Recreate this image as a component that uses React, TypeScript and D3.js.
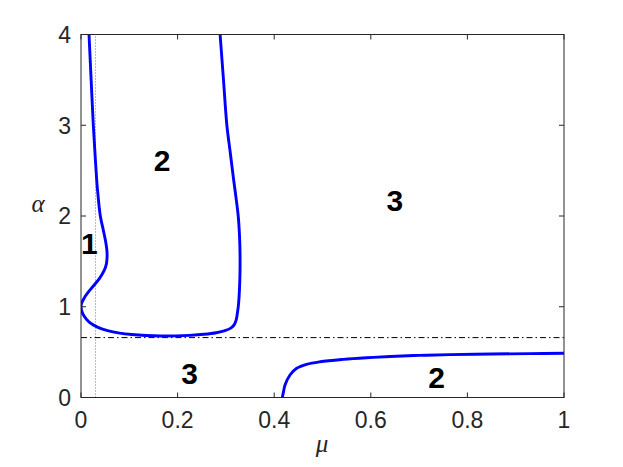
import React from "react";
import * as d3 from "d3";

// Boundary curve enclosing region "2" (upper left loop), [mu, alpha]
const loopMu = [0.0166, 0.021, 0.0255, 0.03, 0.034, 0.04, 0.046, 0.051, 0.0535, 0.054, 0.0525, 0.048, 0.038, 0.021, 0.007, 0.0008, 0.0008, 0.006, 0.017, 0.034, 0.055, 0.08, 0.105, 0.135, 0.165, 0.195, 0.225, 0.255, 0.28, 0.298, 0.31, 0.317, 0.321, 0.3235, 0.326, 0.328, 0.3292, 0.3292, 0.328, 0.3255, 0.321, 0.316, 0.309, 0.302, 0.295, 0.288];
const loopAlpha = [4.0, 3.5, 3.0, 2.6, 2.3, 2.0, 1.85, 1.72, 1.63, 1.55, 1.47, 1.4, 1.31, 1.2, 1.1, 1.03, 0.97, 0.9, 0.83, 0.775, 0.737, 0.71, 0.694, 0.683, 0.678, 0.679, 0.685, 0.697, 0.714, 0.736, 0.764, 0.8, 0.85, 0.92, 1.02, 1.18, 1.38, 1.6, 1.8, 2.0, 2.2, 2.4, 2.7, 3.0, 3.5, 4.0];

// Lower right boundary curve
const lowMu = [0.4168, 0.4195, 0.4224, 0.4327, 0.4466, 0.467, 0.495, 0.543, 0.591, 0.64, 0.7, 0.764, 0.85, 0.93, 1.0];
const lowAlpha = [0.0, 0.07, 0.138, 0.248, 0.322, 0.366, 0.394, 0.42, 0.438, 0.452, 0.464, 0.472, 0.479, 0.484, 0.487];

const dottedMu = 0.03;
const dashDotAlpha = 0.66;

const xTicks = [0, 0.2, 0.4, 0.6, 0.8, 1];
const xTickLabels = ["0", "0.2", "0.4", "0.6", "0.8", "1"];
const yTicks = [0, 1, 2, 3, 4];
const yTickLabels = ["0", "1", "2", "3", "4"];

const regionText = ["2", "1", "3", "3", "2"];
const regionMu = [0.168, 0.0172, 0.65, 0.225, 0.736];
const regionAlpha = [2.62, 1.7, 2.17, 0.265, 0.22];

const W = 623;
const H = 467;
const left = 81;
const right = 564;
const top = 34.5;
const bottom = 397.5;

export default function App() {
  const x = d3.scaleLinear().domain([0, 1]).range([left, right]);
  const y = d3.scaleLinear().domain([0, 4]).range([bottom, top]);
  const line = d3
    .line<[number, number]>()
    .x((d) => x(d[0]))
    .y((d) => y(d[1]))
    .curve(d3.curveCatmullRom.alpha(0.5));
  const loop: [number, number][] = loopMu.map((m, i) => [m, loopAlpha[i]]);
  const low: [number, number][] = lowMu.map((m, i) => [m, lowAlpha[i]]);
  const font = "'Liberation Sans', Arial, Helvetica, sans-serif";
  const axisColor = "#262626";
  const tl = 5;
  return (
    <svg
      width={W}
      height={H}
      style={{ position: "absolute", left: 0, top: 0, background: "#fff" }}
    >
      <rect x={0} y={0} width={W} height={H} fill="#fff" />
      <defs>
        <clipPath id="plotclip">
          <rect x={left} y={top} width={right - left} height={bottom - top} />
        </clipPath>
      </defs>
      {/* reference lines */}
      <line
        x1={x(dottedMu)}
        x2={x(dottedMu)}
        y1={y(0)}
        y2={y(4)}
        stroke="#555"
        strokeWidth={0.8}
        strokeDasharray="1,2"
      />
      <line
        x1={x(0)}
        x2={x(1)}
        y1={y(dashDotAlpha)}
        y2={y(dashDotAlpha)}
        stroke="#000"
        strokeWidth={1}
        strokeDasharray="6,3,1.5,3"
      />
      <g clipPath="url(#plotclip)">
        <path d={line(loop) || ""} fill="none" stroke="#0000ff" strokeWidth={2.9} />
        <path d={line(low) || ""} fill="none" stroke="#0000ff" strokeWidth={2.9} />
      </g>
      {/* axes box */}
      <rect
        x={left}
        y={top}
        width={right - left}
        height={bottom - top}
        fill="none"
        stroke={axisColor}
        strokeWidth={1}
      />
      {xTicks.map((t, i) => (
        <g key={"xt" + i}>
          <line x1={x(t)} x2={x(t)} y1={bottom} y2={bottom - tl} stroke={axisColor} />
          <line x1={x(t)} x2={x(t)} y1={top} y2={top + tl} stroke={axisColor} />
          <text
            x={x(t)}
            y={428}
            textAnchor="middle"
            fontFamily={font}
            fontSize={23}
            fill={axisColor}
          >
            {xTickLabels[i]}
          </text>
        </g>
      ))}
      {yTicks.map((t, i) => (
        <g key={"yt" + i}>
          <line x1={left} x2={left + tl} y1={y(t)} y2={y(t)} stroke={axisColor} />
          <line x1={right} x2={right - tl} y1={y(t)} y2={y(t)} stroke={axisColor} />
          <text
            x={71}
            y={y(t)}
            dy="0.36em"
            textAnchor="end"
            fontFamily={font}
            fontSize={23}
            fill={axisColor}
          >
            {yTickLabels[i]}
          </text>
        </g>
      ))}
      {/* axis labels */}
      <text
        x={38}
        y={204}
        dy="0.3em"
        textAnchor="middle"
        fontFamily="'Liberation Serif', 'DejaVu Serif', serif"
        fontStyle="italic"
        fontSize={25}
        fill={axisColor}
      >
        α
      </text>
      <text
        x={322}
        y={452}
        textAnchor="middle"
        fontFamily="'Liberation Serif', 'DejaVu Serif', serif"
        fontStyle="italic"
        fontSize={25}
        fill={axisColor}
      >
        μ
      </text>
      {/* region labels */}
      {regionText.map((s, i) => (
        <text
          key={"r" + i}
          x={x(regionMu[i])}
          y={y(regionAlpha[i])}
          dy="0.36em"
          textAnchor="middle"
          fontFamily={font}
          fontWeight="bold"
          fontSize={30}
          fill="#000"
        >
          {s}
        </text>
      ))}
    </svg>
  );
}
